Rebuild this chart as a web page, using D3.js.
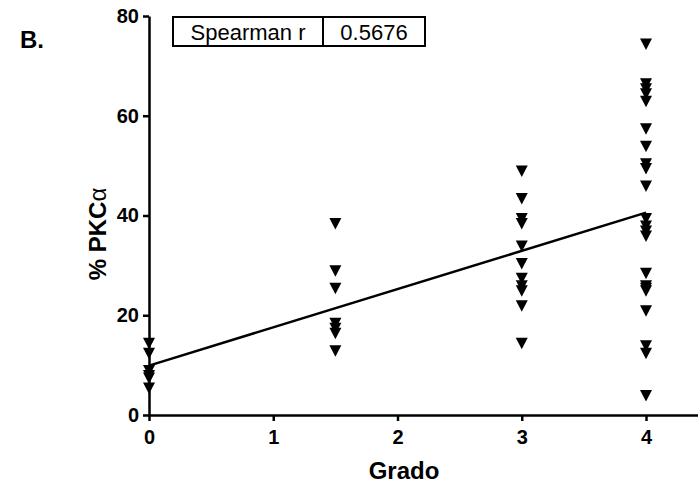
<!DOCTYPE html>
<html>
<head>
<meta charset="utf-8">
<script src="https://cdn.jsdelivr.net/npm/d3@7"></script>
<style>
  html, body { margin: 0; padding: 0; background: #fff; }
  svg { display: block; font-family: "Liberation Sans", Arial, sans-serif; }
</style>
</head>
<body>
<svg id="chart" width="698" height="491"></svg>
<script>
// Grade groups and the % PKCα values measured in each
const grades = [0, 1.5, 3, 4];
const grade0 = [14.5, 12.5, 9, 8, 7.5, 5.5];
const grade15 = [38.5, 29, 25.5, 18.5, 17.5, 16.5, 13];
const grade3 = [49, 43.5, 39.5, 38.5, 34, 30.5, 27.5, 26, 25, 22, 14.5];
const grade4 = [74.5, 66.5, 65.5, 64.5, 63, 57.5, 54, 50.5, 49.5, 46, 39.5, 38, 37, 36, 28.5, 26, 25.5, 25, 21, 14, 12.5, 4];
const xTicks = [0, 1, 2, 3, 4];
const yTicks = [0, 20, 40, 60, 80];
const statLabel = "Spearman r";
const statValue = "0.5676";

const groups = [grade0, grade15, grade3, grade4];
const points = groups.flatMap((vals, i) => vals.map(v => ({ x: grades[i], y: v })));

const svg = d3.select("#chart");

const x = d3.scaleLinear().domain([0, 4.5]).range([149, 149 + 4.5 * 124.25]);
const y = d3.scaleLinear().domain([0, 80]).range([415, 16]);

// Axes
const xAxis = svg.append("g")
  .attr("transform", `translate(0,${y(0)})`)
  .call(d3.axisBottom(x).tickValues(xTicks).tickFormat(d3.format("d"))
    .tickSize(6).tickSizeOuter(0).tickPadding(9));

const yAxis = svg.append("g")
  .attr("transform", `translate(${x(0)},0)`)
  .call(d3.axisLeft(y).tickValues(yTicks).tickFormat(d3.format("d"))
    .tickSize(6).tickSizeOuter(0).tickPadding(4));

[xAxis, yAxis].forEach(g => {
  g.select(".domain").attr("stroke", "#000").attr("stroke-width", 2.5);
  g.selectAll(".tick line").attr("stroke", "#000").attr("stroke-width", 2.5);
  g.selectAll(".tick text")
    .attr("fill", "#000")
    .style("font-size", "20px")
    .style("font-weight", "bold")
    .style("font-family", "'Liberation Sans', Arial, sans-serif");
});

// Linear regression through all points
const mx = d3.mean(points, d => d.x);
const my = d3.mean(points, d => d.y);
const sxy = d3.sum(points, d => (d.x - mx) * (d.y - my));
const sxx = d3.sum(points, d => (d.x - mx) ** 2);
const slope = sxy / sxx;
const intercept = my - slope * mx;
const fitX = d3.extent(grades);

svg.append("line")
  .attr("x1", x(fitX[0])).attr("y1", y(intercept + slope * fitX[0]))
  .attr("x2", x(fitX[1])).attr("y2", y(intercept + slope * fitX[1]))
  .attr("stroke", "#000").attr("stroke-width", 2.5);

// Down-pointing triangle markers
const tri = "M-6,-5 L6,-5 L0,6.5 Z";
svg.append("g").selectAll("path")
  .data(points)
  .join("path")
  .attr("d", tri)
  .attr("transform", d => `translate(${x(d.x)},${y(d.y)})`)
  .attr("fill", "#000");

// Axis titles
svg.append("text")
  .attr("x", 404).attr("y", 479)
  .attr("text-anchor", "middle")
  .style("font-size", "24px").style("font-weight", "bold")
  .text("Grado");

const yt = svg.append("text")
  .attr("transform", "translate(106,234) rotate(-90)")
  .attr("text-anchor", "middle")
  .style("font-size", "24px").style("font-weight", "bold");
yt.append("tspan").text("% PKC");
yt.append("tspan").style("font-weight", "normal").text("α");

// Panel letter
svg.append("text")
  .attr("x", 20).attr("y", 48)
  .style("font-size", "24px").style("font-weight", "bold")
  .text("B.");

// Statistic box
const box = { x0: 173, x1: 323, x2: 425, y0: 17, y1: 46 };
const bg = svg.append("g");
bg.append("rect")
  .attr("x", box.x0).attr("y", box.y0)
  .attr("width", box.x2 - box.x0).attr("height", box.y1 - box.y0)
  .attr("fill", "#fff").attr("stroke", "#000").attr("stroke-width", 2);
bg.append("line")
  .attr("x1", box.x1).attr("x2", box.x1).attr("y1", box.y0).attr("y2", box.y1)
  .attr("stroke", "#000").attr("stroke-width", 2);
bg.append("text")
  .attr("x", (box.x0 + box.x1) / 2).attr("y", 39.5)
  .attr("text-anchor", "middle").style("font-size", "22px")
  .text(statLabel);
bg.append("text")
  .attr("x", (box.x1 + box.x2) / 2).attr("y", 39.5)
  .attr("text-anchor", "middle").style("font-size", "22px")
  .text(statValue);
</script>
</body>
</html>
